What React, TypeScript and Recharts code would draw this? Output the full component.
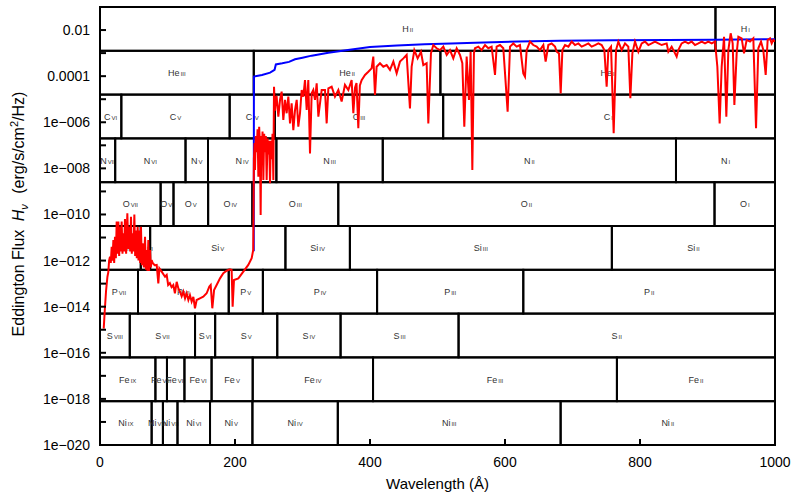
import React from "react";
import { LineChart, Line, XAxis, YAxis, ReferenceArea } from "recharts";

const FONT = '"Liberation Sans", Arial, Helvetica, sans-serif';

// wavelength (Angstrom), log10 of Eddington flux
const fluxXray: [number, number][] = [
  [5.5, -14.95], [7, -14.2], [9, -13.3], [11, -12.7], [12.3, -12.5],
  [13.5, -12.0], [14.8, -11.83], [16, -12.1], [17.3, -11.4], [18.5, -12.0],
  [19.8, -11.11], [21, -12.1], [22.2, -10.97], [23.5, -11.9], [24.7, -10.31],
  [26, -11.7], [27.2, -10.31], [28.4, -11.8], [29.6, -10.53], [30.8, -11.6],
  [32.1, -10.31], [33.3, -11.7], [34.6, -10.82], [35.8, -11.6], [37.0, -10.2],
  [38.7, -11.7], [40.5, -9.95], [42, -11.5], [43.5, -10.53], [44.7, -11.6],
  [45.9, -10.1], [47.1, -11.7], [48.4, -10.82], [49.6, -11.6], [50.9, -10.0],
  [52.1, -11.8], [53.3, -10.7], [54.5, -11.9], [55.8, -10.53], [57, -12.0],
  [58.3, -10.7], [59.5, -12.1], [60.7, -10.53], [62, -12.2], [63.2, -11.25],
  [65, -12.3], [66.7, -10.97], [68, -12.4], [69.1, -11.54], [70.3, -12.45],
  [71.6, -11.11], [72.8, -12.45], [74.1, -11.54], [75.3, -12.3], [76.5, -11.98],
];

const fluxEuv: [number, number][] = [
  [78, -12.1], [81, -12.2], [84, -12.19], [86.4, -12.99], [88, -12.34],
  [91.4, -12.48], [96.3, -12.7], [98.8, -12.62], [101, -13.06], [103.5, -12.98],
  [106, -13.15], [108.6, -13.06], [111, -13.42], [113.6, -12.92], [116, -13.2],
  [118.5, -13.35], [121, -13.55], [123.5, -13.35], [126, -13.64], [128.4, -13.42],
  [130.9, -13.71], [133.3, -13.5], [135.8, -13.78], [138.3, -13.57], [140.7, -14.07],
  [143.2, -13.71], [148, -13.64], [153, -13.57], [158, -13.42], [162, -13.13],
  [164, -13.06], [166.4, -14.07], [169, -13.28], [172.8, -13.06], [177.8, -12.77],
  [182.7, -12.55], [187.7, -12.44], [192.6, -12.38], [195, -12.41], [196.5, -14.0],
  [198.5, -12.84], [205, -12.77], [212.3, -12.48], [219.7, -12.19], [224.7, -11.9],
  [227.0, -11.54],
];

const fluxHeII: [number, number][] = [
  [228.0, -7.6], [229.0, -6.9], [229.6, -8.07], [230.8, -6.6], [232.1, -7.3],
  [233.4, -6.3], [234.6, -8.36], [235.8, -6.2], [237.0, -7.0], [238.0, -10.02],
  [239.0, -6.6], [239.5, -7.5], [240.8, -6.4], [242.0, -8.5], [243.2, -6.5],
  [244.4, -7.3], [245.7, -6.6], [246.9, -8.5], [248.2, -6.7], [249.4, -7.4],
  [250.6, -6.8], [251.9, -8.65], [253.1, -6.8], [254.3, -7.6], [255.6, -6.5],
  [256.8, -8.5], [257.8, -4.46], [259.3, -5.5], [260.5, -4.9], [261.7, -4.89],
  [264.2, -5.76], [266.7, -5.03], [269.1, -4.67], [271.6, -5.9], [274.1, -5.03],
  [276.5, -5.61], [279.0, -4.89], [281.5, -6.05], [283.9, -5.18], [286.4, -6.34],
  [288.9, -5.47], [291.4, -5.03], [293.8, -6.19], [296.3, -5.61], [298.8, -4.6],
  [301.2, -4.89], [303.7, -4.17], [306.2, -5.47], [308.6, -4.17], [311.1, -7.35],
  [313.6, -4.74], [316.0, -4.6], [318.5, -5.03], [321.0, -4.31], [323.5, -5.76],
  [328.4, -4.6],
];

const fluxHeI: [number, number][] = [
  [333.3, -4.6], [335.8, -6.05], [338.3, -4.53], [343.2, -4.46], [348.1, -4.89],
  [353.1, -4.6], [358.0, -5.1], [362.9, -4.38], [367.9, -4.6], [372.8, -4.17],
  [375.3, -5.61], [377.8, -4.5], [380, -4.3], [382.7, -6.26], [385, -4.4],
  [387.6, -4.17], [392.6, -3.95], [397.5, -3.81], [402.4, -3.66], [404.9, -3.15],
  [407.4, -4.82], [409.8, -3.59], [414.8, -3.44], [419.7, -3.59], [424.7, -3.52],
  [429.6, -3.73], [434.6, -3.37], [439.5, -3.88], [444.4, -3.37], [449.4, -3.23],
  [454.3, -3.08], [459.2, -5.4], [461.7, -3.59], [465.7, -2.87], [470.6, -3.23],
  [475.5, -2.94], [479.0, -3.52], [483.9, -3.44], [486.4, -6.05], [490.3, -3.01],
  [493.8, -2.65], [498.7, -2.79], [503.7, -2.87], [508.6, -2.72], [513.6, -3.08],
  [518.5, -2.87], [523.4, -3.23], [528.4, -2.79], [533.3, -3.08], [536.8, -3.44],
  [539.7, -6.19], [543.2, -3.15], [546.6, -5.03], [549.1, -2.94], [551.6, -8.07],
  [554.0, -3.0], [555.5, -2.79], [560.5, -2.72], [565.4, -2.87], [570.4, -2.65],
  [575.3, -2.79], [580.2, -2.72], [585.2, -3.95], [587.6, -2.72], [592.6, -2.65],
  [597.5, -2.79], [603.9, -5.54], [607.4, -2.72], [612.3, -2.58], [617.3, -2.72],
  [622.2, -2.65], [627.1, -3.88], [629.6, -4.02], [632.1, -2.87], [637.0, -2.5],
  [641.9, -2.65], [646.9, -2.72], [651.8, -2.87], [656.8, -2.65], [660.2, -3.37],
  [664.2, -2.65], [669.1, -2.58], [674.1, -2.72],
];

const fluxHI: [number, number][] = [
  [676.6, -2.94], [680.0, -3.01], [682.5, -4.75], [685.0, -2.87], [688.9, -2.65],
  [693.9, -2.72], [698.8, -2.5], [703.7, -2.65], [708.7, -2.58], [713.6, -2.72],
  [718.5, -2.65], [723.5, -2.58], [728.4, -2.72], [733.4, -2.65], [738.3, -2.58],
  [743.2, -2.65], [747.2, -2.87], [750.6, -4.46], [753.1, -2.87], [757.1, -2.72],
  [761.0, -6.48], [764.5, -2.87], [767.9, -2.5], [772.9, -2.87], [777.8, -2.58],
  [782.7, -2.72], [785.7, -4.96], [788.7, -3.01], [792.6, -2.5], [797.6, -2.94],
  [802.5, -2.58], [807.4, -2.5], [812.4, -2.65], [817.3, -2.58], [822.2, -2.5],
  [827.2, -2.58], [832.1, -2.65], [839.5, -2.58], [842.0, -2.94], [846.9, -2.72],
  [851.9, -3.01], [854.3, -3.15], [856.8, -2.87], [861.7, -2.58], [866.7, -2.5],
  [871.6, -2.58], [876.5, -2.5], [881.5, -2.65], [886.4, -2.58], [891.4, -2.5],
  [896.3, -2.58], [901.2, -2.5], [906.2, -2.58], [911.1, -2.5], [914.6, -3.59],
  [918.0, -6.05], [921.0, -3.59], [924.5, -2.29], [927.9, -5.76], [930.9, -2.87],
  [934.3, -2.14], [937.3, -2.58], [939.8, -5.25], [943.2, -3.01], [945.7, -2.29],
  [950.6, -2.36], [954.1, -3.01], [958.0, -2.43], [963.0, -2.5], [967.9, -2.36],
  [971.9, -6.26], [975.3, -2.79], [979.3, -2.5], [982.7, -2.87], [986.2, -3.95],
  [989.1, -2.43], [992.6, -2.36], [995.1, -2.58], [997.5, -2.43], [1000, -2.5],
];

// blue continuum
const fluxContinuum: [number, number][] = [
  [227.8, -11.6], [228.0, -4.02], [240, -3.95], [252, -3.85], [258.6, -3.73],
  [260.5, -3.49], [270, -3.44], [280, -3.38], [288.9, -3.27], [300, -3.2],
  [313.6, -3.11], [338.3, -2.98], [370, -2.85], [400, -2.74], [440, -2.67],
  [481, -2.62], [520, -2.58], [556, -2.55], [620, -2.5], [681, -2.46],
  [760, -2.44], [840, -2.43], [911, -2.42], [1000, -2.4],
];

// ionisation edges per element (Angstrom) and the ion stage left of each
const rowNames = ["H", "He", "C", "N", "O", "Si", "P", "S", "Fe", "Ni"];
const hEdges = [911.8];
const heEdges = [227.8, 504.3];
const cEdges = [31.6, 192.1, 259.0, 508.4];
const nEdges = [22.5, 126.7, 160.0, 261.3, 418.9, 853.3];
const oEdges = [89.8, 108.9, 160.2, 225.7, 353.0, 910.4];
const siEdges = [60.4, 74.3, 274.7, 370.2, 758.3];
const pEdges = [56.3, 190.7, 241.3, 410.5, 627.1];
const sEdges = [44.1, 140.8, 170.6, 262.6, 356.4, 531.2];
const feEdges = [82.1, 99.2, 125.1, 165.3, 226.2, 404.5, 765.8];
const niEdges = [76.5, 93.2, 114.8, 163.0, 225.8, 352.3, 682.4];
const rowEdges = [hEdges, heEdges, cEdges, nEdges, oEdges, siEdges, pEdges, sEdges, feEdges, niEdges];
const rowIons = [
  ["II", "I"],
  ["III", "II", "I"],
  ["VI", "V", "IV", "III", "II"],
  ["VII", "VI", "V", "IV", "III", "II", "I"],
  ["VII", "VI", "V", "IV", "III", "II", "I"],
  ["VII", "VI", "V", "IV", "III", "II"],
  ["VII", "VI", "V", "IV", "III", "II"],
  ["VIII", "VII", "VI", "V", "IV", "III", "II"],
  ["IX", "VIII", "VII", "VI", "V", "IV", "III", "II"],
  ["IX", "VIII", "VII", "VI", "V", "IV", "III", "II"],
];

const xTicks = [0, 200, 400, 600, 800, 1000];
const yTicks = [
  1e-20, 1e-19, 1e-18, 1e-17, 1e-16, 1e-15, 1e-14, 1e-13, 1e-12, 1e-11,
  1e-10, 1e-9, 1e-8, 1e-7, 1e-6, 1e-5, 1e-4, 1e-3, 1e-2, 1e-1,
];
const yTickLabels = [
  "1e\u2212020", "", "1e\u2212018", "", "1e\u2212016", "", "1e\u2212014", "", "1e\u2212012", "",
  "1e\u2212010", "", "1e\u2212008", "", "1e\u2212006", "", "0.0001", "", "0.01", "",
];

const Y_MIN = 1e-20;
const Y_MAX = 1e-1;
const BAND_DECADES = 1.9;

const toPoints = (pairs: [number, number][]) => pairs.map(([w, lg]) => ({ w, f: 10 ** lg }));
const spectrum = toPoints([...fluxXray, ...fluxEuv, ...fluxHeII, ...fluxHeI, ...fluxHI]);
const continuum = toPoints(fluxContinuum);

const cells = rowNames.flatMap((name, i) => {
  const bounds = [0, ...rowEdges[i], 1000];
  const top = Math.min(Y_MAX, 10 ** (-1 - BAND_DECADES * i));
  const bottom = Math.max(Y_MIN, 10 ** (-1 - BAND_DECADES * (i + 1)));
  return rowIons[i].map((ion, j) => ({
    key: `${name}-${ion}`, name, ion, x1: bounds[j], x2: bounds[j + 1], y1: bottom, y2: top,
  }));
});

const cellShape = (name: string, ion: string) => (p: any) => {
  const { x, y, width, height } = p;
  return (
    <g>
      <rect x={x} y={y} width={width} height={height} fill="none" stroke="#000" strokeWidth={2} />
      <text x={x + width / 2} y={y + height / 2 + 3.3} textAnchor="middle" fontSize={9} fontFamily={FONT} fill="#333">
        {name}
        <tspan fontSize={6} dx={1}>{ion}</tspan>
      </text>
    </g>
  );
};

const LeftTick = ({ x, y, payload }: any) => {
  const label = yTickLabels[yTicks.indexOf(payload.value)];
  return (
    <g>
      <line x1={x} x2={x + 6} y1={y} y2={y} stroke="#000" strokeWidth={2} />
      {label ? (
        <text x={x - 10} y={y + 5} textAnchor="end" fontSize={14} fontFamily={FONT} fill="#000">{label}</text>
      ) : null}
    </g>
  );
};

const RightTick = ({ x, y }: any) => <line x1={x - 6} x2={x} y1={y} y2={y} stroke="#000" strokeWidth={2} />;

const BottomTick = ({ x, y, payload }: any) => (
  <g>
    <line x1={x} x2={x} y1={y - 6} y2={y} stroke="#000" strokeWidth={2} />
    <text x={x} y={y + 22} textAnchor="middle" fontSize={14} fontFamily={FONT} fill="#000">{payload.value}</text>
  </g>
);

const TopTick = ({ x, y }: any) => <line x1={x} x2={x} y1={y} y2={y + 6} stroke="#000" strokeWidth={2} />;

const XTitle = () => (
  <text x={437.5} y={489} textAnchor="middle" fontSize={15} fontFamily={FONT} fill="#000">
    Wavelength (Å)
  </text>
);

const YTitle = () => (
  <text x={24} y={214} transform="rotate(-90 24 214)" textAnchor="middle" fontSize={16} fontFamily={FONT} fill="#000">
    {"Eddington Flux "}
    <tspan fontStyle="italic" dx={4}>H</tspan>
    <tspan fontStyle="italic" fontSize={11} dy={4}>ν</tspan>
    <tspan dy={-4} dx={6}>{" (erg/s/cm"}</tspan>
    <tspan fontSize={11} dy={-6}>2</tspan>
    <tspan dy={6}>/Hz)</tspan>
  </text>
);

export default function App() {
  const axisLine = { stroke: "#000", strokeWidth: 2 };
  return (
    <div style={{ position: "absolute", left: 0, top: 0, width: 800, height: 498, background: "#fff" }}>
      <LineChart width={800} height={498} margin={{ top: 7, right: 25, bottom: 0, left: 0 }}>
        <XAxis
          xAxisId="b" dataKey="w" type="number" domain={[0, 1000]} ticks={xTicks} allowDataOverflow interval={0}
          height={53} tickSize={0} tickMargin={0} tickLine={false} axisLine={axisLine} tick={BottomTick}
          label={{ content: XTitle }}
        />
        <XAxis
          xAxisId="t" orientation="top" dataKey="w" type="number" domain={[0, 1000]} ticks={xTicks} interval={0}
          allowDataOverflow height={0} tickSize={0} tickMargin={0} tickLine={false} axisLine={axisLine} tick={TopTick}
        />
        <YAxis
          yAxisId="l" scale="log" type="number" domain={[Y_MIN, Y_MAX]} ticks={yTicks} allowDataOverflow interval={0}
          width={100} tickSize={0} tickMargin={0} tickLine={false} axisLine={axisLine} tick={LeftTick}
          label={{ content: YTitle }}
        />
        <YAxis
          yAxisId="r" orientation="right" scale="log" type="number" domain={[Y_MIN, Y_MAX]} ticks={yTicks} interval={0}
          allowDataOverflow width={0} tickSize={0} tickMargin={0} tickLine={false} axisLine={axisLine} tick={RightTick}
        />
        {cells.map((c) => (
          <ReferenceArea
            key={c.key} xAxisId="b" yAxisId="l" x1={c.x1} x2={c.x2} y1={c.y1} y2={c.y2}
            ifOverflow="visible" shape={cellShape(c.name, c.ion)}
          />
        ))}
        <Line
          xAxisId="b" yAxisId="l" data={continuum} dataKey="f" type="linear" stroke="#0000ff"
          strokeWidth={2} dot={false} activeDot={false} isAnimationActive={false}
        />
        <Line
          xAxisId="b" yAxisId="l" data={spectrum} dataKey="f" type="linear" stroke="#ff0000"
          strokeWidth={2} dot={false} activeDot={false} isAnimationActive={false}
        />
      </LineChart>
    </div>
  );
}
